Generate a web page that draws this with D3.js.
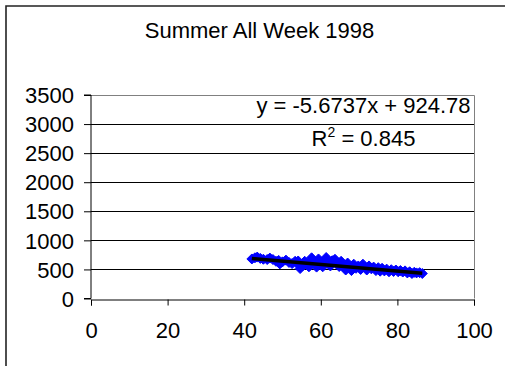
<!DOCTYPE html>
<html>
<head>
<meta charset="utf-8">
<script src="https://cdn.jsdelivr.net/npm/d3@7"></script>
<style>
  html, body { margin: 0; padding: 0; background: #fff; }
  svg { display: block; font-family: "Liberation Sans", Arial, sans-serif; }
</style>
</head>
<body>
<div id="chart"></div>
<script>
// data
const title = "Summer All Week 1998";
const xTicks = [0, 20, 40, 60, 80, 100];
const yTicks = [0, 500, 1000, 1500, 2000, 2500, 3000, 3500];
const xs = [42, 42.8, 43.4, 44.2, 45, 46, 46.7, 47.5, 48.3, 49, 49.3, 50, 50.9, 51.7, 52.5, 53.3, 54, 54.1, 54.6, 55.2,
            55.8, 56.3, 56.9, 57.6, 57.9, 58.5, 58.9, 59.4, 60, 60.5, 61, 61.4, 62, 62.5, 63, 63.7, 64.2, 64.8, 65.3, 65.8,
            66.5, 67, 67.5, 68, 68.6, 69.2, 69.8, 70.4, 71, 71.5, 72, 72.6, 73.2, 73.8, 74.4, 75, 75.5, 76, 76.6, 77.2,
            77.8, 78.4, 79, 79.6, 80.2, 80.8, 81.4, 82, 82.6, 83.2, 83.8, 84.4, 85, 85.8, 86.5];
const ys = [680, 700, 712, 690, 675, 670, 695, 670, 640, 655, 595, 630, 660, 620, 600, 640, 590, 645, 515, 560,
            640, 600, 545, 700, 650, 600, 540, 680, 580, 545, 640, 705, 600, 560, 650, 675, 590, 550, 640, 580,
            490, 610, 540, 480, 590, 520, 560, 500, 590, 540, 490, 560, 510, 540, 480, 530, 470, 520, 475, 505,
            460, 495, 465, 490, 460, 480, 455, 475, 440, 460, 430, 450, 440, 445, 430];
const slope = -5.6737, intercept = 924.78;
const eqText = "y = -5.6737x + 924.78";
const r2Value = "0.845";

const W = 505, H = 366;
const svg = d3.select("#chart").append("svg")
    .attr("width", W).attr("height", H);

// outer frame
svg.append("path")
    .attr("d", `M6,${H + 2} L6,6 L${W + 2},6`)
    .attr("fill", "none")
    .attr("stroke", "#222")
    .attr("stroke-width", 1.6);

const x = d3.scaleLinear().domain([0, 100]).range([91, 474]);
const y = d3.scaleLinear().domain([0, 3500]).range([298.5, 95]);

// gridlines
svg.append("g").selectAll("line")
    .data(yTicks.filter(d => d > 0 && d < 3500))
    .join("line")
    .attr("x1", x(0)).attr("x2", x(100))
    .attr("y1", d => Math.round(y(d)) + 0.5).attr("y2", d => Math.round(y(d)) + 0.5)
    .attr("stroke", "#000").attr("stroke-width", 1);

// plot area border top/right
svg.append("path")
    .attr("d", `M${x(0)},${Math.round(y(3500)) + 0.5} H${Math.round(x(100)) + 0.5} V${y(0)}`)
    .attr("fill", "none").attr("stroke", "#808080").attr("stroke-width", 1);

// y axis
const yAxis = svg.append("g")
    .attr("transform", `translate(${x(0)},0)`)
    .call(d3.axisLeft(y).tickValues(yTicks).tickSize(7).tickPadding(10).tickFormat(d3.format("d")));
// x axis
const xAxis = svg.append("g")
    .attr("transform", `translate(0,${Math.round(y(0)) + 0.5})`)
    .call(d3.axisBottom(x).tickValues(xTicks).tickSize(6).tickPadding(17));

[yAxis, xAxis].forEach(a => {
  a.select(".domain").attr("stroke", "#000");
  a.selectAll(".tick line").attr("stroke", "#000");
  a.selectAll("text").attr("font-size", 22).attr("fill", "#000")
    .attr("font-family", "'Liberation Sans', Arial, sans-serif");
});
yAxis.select(".domain").attr("d", `M-7,${y(3500)}H0V${y(0)}H-7`);
yAxis.selectAll(".tick text").attr("dy", "0.35em");

// scatter points (diamonds)
const pts = xs.map((v, i) => ({x: v, y: ys[i]}));
svg.append("g").selectAll("path")
    .data(pts)
    .join("path")
    .attr("d", "M0,-5 L5,0 L0,5 L-5,0 Z")
    .attr("transform", d => `translate(${x(d.x)},${y(d.y)})`)
    .attr("fill", "#0000ff")
    .attr("stroke", "#0000ff")
    .attr("stroke-width", 1);

// trend line
const xMin = d3.min(xs), xMax = d3.max(xs);
svg.append("line")
    .attr("x1", x(xMin)).attr("y1", y(slope * xMin + intercept))
    .attr("x2", x(xMax)).attr("y2", y(slope * xMax + intercept))
    .attr("stroke", "#000").attr("stroke-width", 3.5);

// title
svg.append("text")
    .attr("x", 259.5).attr("y", 37.5)
    .attr("text-anchor", "middle")
    .attr("font-size", 22)
    .text(title);

// equation label
svg.append("text")
    .attr("x", 363.5).attr("y", 113)
    .attr("text-anchor", "middle")
    .attr("font-size", 22)
    .text(eqText);

const r2 = svg.append("text")
    .attr("x", 363.5).attr("y", 145.5)
    .attr("text-anchor", "middle")
    .attr("font-size", 22);
r2.append("tspan").text("R");
r2.append("tspan").attr("font-size", 14).attr("dy", -9).text("2");
r2.append("tspan").attr("dy", 9).text(" = " + r2Value);
</script>
</body>
</html>
